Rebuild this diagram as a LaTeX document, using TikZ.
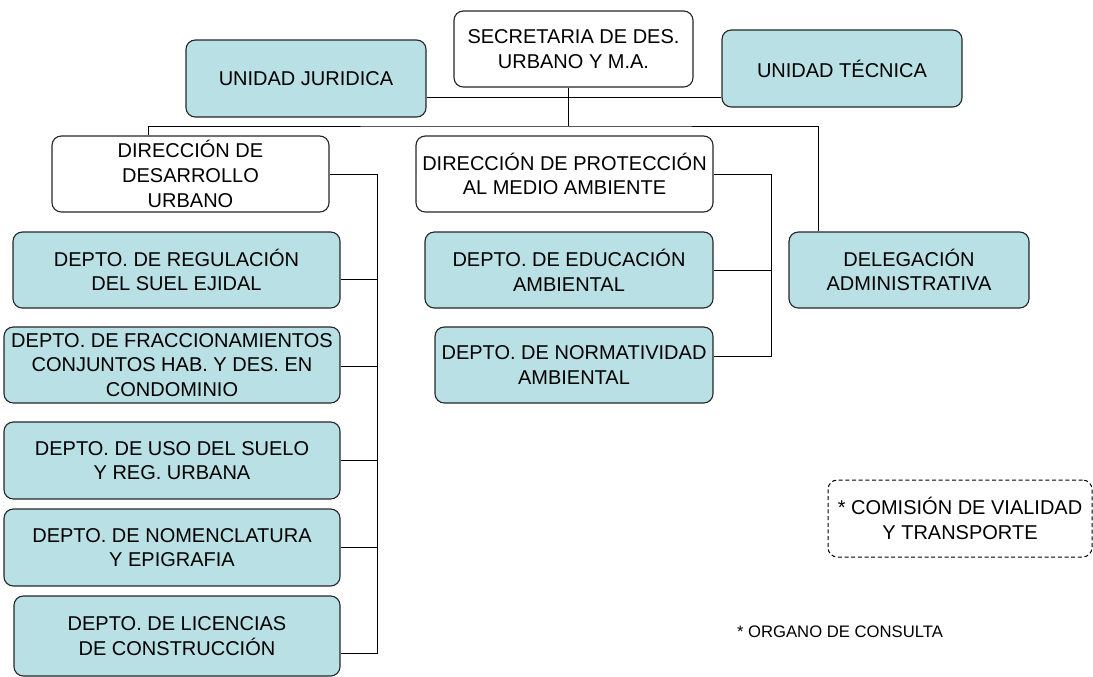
\documentclass[tikz,border=0pt]{standalone}
\usepackage{fontspec}
\setmainfont{Liberation Sans}
\usetikzlibrary{calc}

\definecolor{unitfill}{RGB}{185,224,228}

\begin{document}
\begin{tikzpicture}[x=0.75pt,y=-0.75pt,line width=0.75pt,
  box/.style={draw=black!85,line width=0.85pt,rounded corners=7pt,align=center,
    inner sep=1pt,minimum height=57pt,font=\fontsize{15}{18.5}\selectfont},
  unit/.style={box,fill=unitfill},
  chief/.style={box,fill=white},
  advisory/.style={box,draw=black,dashed,dash pattern=on 3pt off 2pt,line width=0.75pt}]
\useasboundingbox (0,0) rectangle (1093,676);
% Draw top level
\node[chief,minimum width=179.25pt] (secretaria) at (573.5,49) {SECRETARIA DE DES.\\URBANO Y M.A.};
\node[unit,minimum width=180pt,minimum height=57.75pt] (juridica) at (306,78.5) {UNIDAD JURIDICA};
\node[unit,minimum width=180pt,minimum height=57.75pt] (tecnica) at (842,68.5) {UNIDAD TÉCNICA};
% Draw directions
\node[chief,minimum width=207.75pt] (dirdu) at (190.5,174) {DIRECCIÓN DE\\DESARROLLO\\URBANO};
\node[chief,minimum width=222.75pt] (dirpma) at (564.5,174) {DIRECCIÓN DE PROTECCIÓN\\AL MEDIO AMBIENTE};
\node[unit,minimum width=180pt] (delegacion) at (909,270) {DELEGACIÓN\\ADMINISTRATIVA};
% Draw departments of urban development
\node[unit,minimum width=245.25pt] (regulacion) at (176.5,270) {DEPTO. DE REGULACIÓN\\DEL SUEL EJIDAL};
\node[unit,minimum width=252pt] (fraccionamientos) at (172,365) {DEPTO. DE FRACCIONAMIENTOS\\CONJUNTOS HAB. Y DES. EN\\CONDOMINIO};
\node[unit,minimum width=252pt,minimum height=57.75pt] (uso) at (172,460.5) {DEPTO. DE USO DEL SUELO\\Y REG. URBANA};
\node[unit,minimum width=252pt,minimum height=57.75pt] (nomenclatura) at (172,547.5) {DEPTO. DE NOMENCLATURA\\Y EPIGRAFIA};
\node[unit,minimum width=244.5pt,minimum height=60pt] (licencias) at (177,636) {DEPTO. DE LICENCIAS\\DE CONSTRUCCIÓN};
% Draw departments of environment
\node[unit,minimum width=216pt] (educacion) at (569,270) {DEPTO. DE EDUCACIÓN\\AMBIENTAL};
\node[unit,minimum width=208.5pt] (normatividad) at (574,365) {DEPTO. DE NORMATIVIDAD\\AMBIENTAL};
% Advisory body
\node[advisory,minimum width=198pt,minimum height=57.75pt] (comision) at (960,518.5) {* COMISIÓN DE VIALIDAD\\Y TRANSPORTE};
\node[font=\fontsize{12.5}{15}\selectfont] (consulta) at (840,632) {* ORGANO DE CONSULTA};
% Draw staff line
\draw ($(juridica.east)+(0,18.5)$) -- ($(tecnica.west)+(0,28.5)$);
% Draw bus
\coordinate (bus) at (568,126);
\draw ($(secretaria.south)+(-5.5,0)$) -- (bus);
\draw ($(dirdu.north)+(-42.5,0)$) |- (bus) -| ($(delegacion.north)+(-91,0)$);
% Draw urban development trunk
\draw (dirdu.east) -- ++(48,0) -- ++(0,479);
\draw (regulacion.east) ++(0,9) -- ++(37,0);
\draw (fraccionamientos.east) ++(0,1) -- ++(37,0);
\draw (uso.east) -- ++(37,0);
\draw (nomenclatura.east) -- ++(37,0);
\draw (licencias.east) ++(0,17) -- ++(37,0);
% Draw environment trunk
\draw (dirpma.east) -- ++(58,0) -- ++(0,182);
\draw (educacion.east) -- ++(58,0);
\draw (normatividad.east) ++(0,-9) -- ++(58,0);
\end{tikzpicture}
\end{document}
